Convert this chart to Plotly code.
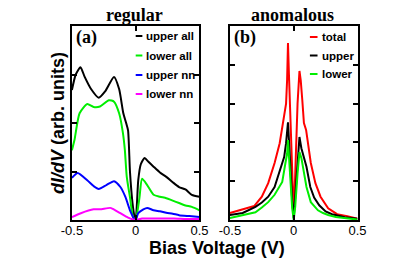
import plotly.graph_objects as go

W, H = 416, 270

# ---------------- data: panel (a) regular ----------------
xa_upper_all = [-0.5, -0.47, -0.433, -0.4, -0.35, -0.29, -0.24, -0.17, -0.13, -0.097, -0.075, -0.06, -0.045, -0.025, -0.01, 0.0, 0.01, 0.02, 0.04, 0.07, 0.1, 0.14, 0.19, 0.24, 0.29, 0.34, 0.39, 0.44, 0.5]
ya_upper_all = [2.68, 3.0, 3.15, 2.95, 2.7, 2.52, 2.65, 2.95, 2.7, 2.2, 2.0, 1.85, 1.0, 0.35, 0.08, 0.0, 0.35, 0.82, 1.15, 1.28, 1.2, 1.1, 0.98, 0.89, 0.78, 0.68, 0.63, 0.52, 0.48]

xa_lower_all = [-0.5, -0.48, -0.44, -0.38, -0.33, -0.28, -0.21, -0.17, -0.13, -0.1, -0.085, -0.07, -0.045, -0.02, 0.0, 0.015, 0.03, 0.05, 0.09, 0.14, 0.19, 0.24, 0.29, 0.34, 0.39, 0.44, 0.5]
ya_lower_all = [1.44, 1.65, 2.2, 2.39, 2.33, 2.34, 2.47, 2.44, 2.2, 1.79, 1.44, 0.89, 0.47, 0.05, 0.0, 0.2, 0.47, 0.85, 0.72, 0.52, 0.48, 0.45, 0.4, 0.35, 0.3, 0.27, 0.2]

xa_upper_nn = [-0.5, -0.455, -0.38, -0.33, -0.29, -0.23, -0.17, -0.12, -0.08, -0.045, -0.01, 0.0, 0.02, 0.06, 0.09, 0.14, 0.19, 0.24, 0.29, 0.34, 0.42, 0.5]
ya_upper_nn = [0.87, 0.97, 0.82, 0.7, 0.64, 0.72, 0.8, 0.68, 0.47, 0.2, 0.02, 0.0, 0.14, 0.22, 0.25, 0.2, 0.18, 0.15, 0.13, 0.1, 0.08, 0.06]

xa_lower_nn = [-0.5, -0.43, -0.33, -0.28, -0.2, -0.18, -0.12, -0.06, -0.02, 0.0, 0.05, 0.1, 0.2, 0.3, 0.4, 0.5]
ya_lower_nn = [0.06, 0.14, 0.22, 0.22, 0.25, 0.23, 0.14, 0.05, 0.01, 0.0, 0.03, 0.03, 0.03, 0.03, 0.02, 0.02]

# ---------------- data: panel (b) anomalous ----------------
xb_total = [-0.5, -0.45, -0.4, -0.35, -0.31, -0.25, -0.2, -0.15, -0.11, -0.09, -0.073, -0.06, -0.052, -0.045, -0.038, -0.025, -0.012, 0.0, 0.012, 0.03, 0.045, 0.055, 0.067, 0.08, 0.097, 0.115, 0.134, 0.17, 0.21, 0.27, 0.34, 0.42, 0.5]
yb_total = [0.18, 0.22, 0.28, 0.32, 0.36, 0.6, 0.95, 1.47, 1.98, 2.4, 2.75, 3.0, 3.6, 4.56, 3.8, 2.5, 1.2, 0.12, 1.2, 3.0, 3.84, 3.6, 3.1, 2.5, 2.32, 1.9, 1.47, 0.95, 0.6, 0.3, 0.15, 0.1, 0.03]

xb_upper = [-0.5, -0.4, -0.3, -0.25, -0.2, -0.15, -0.12, -0.09, -0.075, -0.06, -0.052, -0.045, -0.038, -0.025, -0.012, 0.0, 0.012, 0.03, 0.045, 0.06, 0.08, 0.1, 0.13, 0.16, 0.2, 0.25, 0.3, 0.35, 0.4, 0.45, 0.5]
yb_upper = [0.13, 0.18, 0.34, 0.45, 0.6, 0.85, 1.16, 1.45, 1.62, 1.98, 2.2, 2.52, 2.1, 1.2, 0.5, 0.05, 0.6, 1.6, 2.14, 1.85, 1.6, 1.37, 0.85, 0.58, 0.38, 0.22, 0.15, 0.1, 0.07, 0.05, 0.03]

xb_lower = [-0.5, -0.4, -0.3, -0.25, -0.2, -0.15, -0.09, -0.065, -0.052, -0.045, -0.038, -0.025, -0.012, 0.0, 0.012, 0.03, 0.045, 0.06, 0.073, 0.1, 0.134, 0.16, 0.19, 0.23, 0.27, 0.33, 0.39, 0.45, 0.5]
yb_lower = [0.05, 0.13, 0.2, 0.32, 0.46, 0.65, 0.98, 1.47, 1.7, 2.06, 1.7, 0.9, 0.3, 0.0, 0.35, 1.2, 1.75, 1.6, 1.37, 0.85, 0.46, 0.36, 0.25, 0.18, 0.13, 0.08, 0.05, 0.03, 0.01]

x_ticks = [-0.5, 0, 0.5]
x_ticklabels = ["-0.5", "0", "0.5"]

legend_a = [("upper all", "black"), ("lower all", "#00ee00"), ("upper nn", "#0000ff"), ("lower nn", "#ff00ff")]
legend_b = [("total", "#ff0000"), ("upper", "black"), ("lower", "#00ee00")]

# ---------------- layout geometry (pixels) ----------------
def px(x):
    return x / W

def py(y):
    return (H - y) / H

fig = go.Figure()
lw = 2
for xs, ys, col in [(xa_upper_all, ya_upper_all, "black"), (xa_lower_all, ya_lower_all, "#00ee00"),
                    (xa_upper_nn, ya_upper_nn, "#0000ff"), (xa_lower_nn, ya_lower_nn, "#ff00ff")]:
    fig.add_trace(go.Scatter(x=xs, y=ys, mode="lines", line=dict(color=col, width=lw, shape="spline", smoothing=0.6),
                             xaxis="x", yaxis="y", showlegend=False))
for xs, ys, col in [(xb_total, yb_total, "#ff0000"), (xb_upper, yb_upper, "black"), (xb_lower, yb_lower, "#00ee00")]:
    fig.add_trace(go.Scatter(x=xs, y=ys, mode="lines", line=dict(color=col, width=lw), xaxis="x2", yaxis="y2", showlegend=False))

axcommon = dict(showline=True, linecolor="black", linewidth=2, mirror="ticks", ticks="inside",
                ticklen=5, tickwidth=1.5, tickcolor="black", showgrid=False, zeroline=False)
ydom = [py(220), py(26)]
fig.update_layout(
    width=W, height=H, margin=dict(l=0, r=0, t=0, b=0),
    paper_bgcolor="white", plot_bgcolor="white", showlegend=False,
    font=dict(family="Liberation Sans, Arial, sans-serif", color="black"),
    xaxis=dict(domain=[px(64), px(198)], range=[-0.5, 0.5], tickvals=x_ticks, ticktext=x_ticklabels,
               tickfont=dict(size=13), ticklabelstandoff=-3, anchor="y", **axcommon),
    yaxis=dict(domain=ydom, range=[0, 4], dtick=1, showticklabels=False, anchor="x", **axcommon),
    xaxis2=dict(domain=[px(230), px(364)], range=[-0.5, 0.5], tickvals=x_ticks, ticktext=x_ticklabels,
                tickfont=dict(size=13), ticklabelstandoff=-3, anchor="y2", **axcommon),
    yaxis2=dict(domain=ydom, range=[0, 5], dtick=1, showticklabels=False, anchor="x2", **axcommon),
)

ann = []
serif = "Liberation Serif, Times New Roman, serif"
ann.append(dict(text="<b>regular</b>", x=px(130), y=py(15), font=dict(family=serif, size=18)))
ann.append(dict(text="<b>anomalous</b>", x=px(296), y=py(15), font=dict(family=serif, size=18)))
ann.append(dict(text="<b>(a)</b>", x=px(66), y=py(38), xanchor="left", font=dict(family=serif, size=18)))
ann.append(dict(text="<b>(b)</b>", x=px(232), y=py(38), xanchor="left", font=dict(family=serif, size=18)))
ann.append(dict(text="<b>Bias Voltage (V)</b>", x=px(216), y=py(248), font=dict(size=18)))
ann.append(dict(text="<b><i>dI/dV</i> (arb. units)</b>", x=px(50), y=py(123.5), textangle=-90, font=dict(size=18)))

shapes = []
for i, (lab, col) in enumerate(legend_a):
    yy = [36, 55.5, 75, 94][i]
    shapes.append(dict(type="line", xref="paper", yref="paper", x0=px(131), x1=px(138), y0=py(yy), y1=py(yy),
                       line=dict(color=col, width=2)))
    ann.append(dict(text="<b>" + lab + "</b>", x=px(140), y=py(yy), xanchor="left", font=dict(size=11.5)))
for i, (lab, col) in enumerate(legend_b):
    yy = [37, 55.5, 74][i]
    shapes.append(dict(type="line", xref="paper", yref="paper", x0=px(314), x1=px(322), y0=py(yy), y1=py(yy),
                       line=dict(color=col, width=2)))
    ann.append(dict(text="<b>" + lab + "</b>", x=px(325), y=py(yy), xanchor="left", font=dict(size=11.5)))

for a in ann:
    a.setdefault("xref", "paper")
    a.setdefault("yref", "paper")
    a.setdefault("showarrow", False)
    a.setdefault("xanchor", "center")
    a.setdefault("yanchor", "middle")
fig.update_layout(annotations=ann, shapes=shapes)

fig.write_html("out.html", config={"displayModeBar": False},
               post_script="document.body.style.margin='0';document.body.style.overflow='hidden';")
